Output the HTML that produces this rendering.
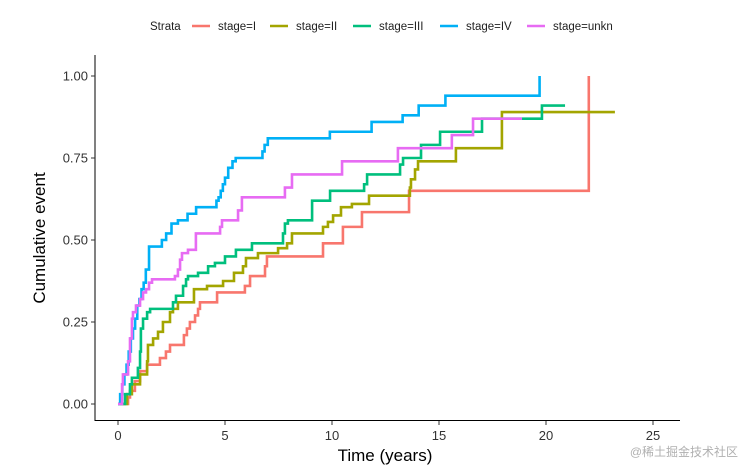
<!DOCTYPE html>
<html><head><meta charset="utf-8"><style>
html,body{margin:0;padding:0;background:#fff;}
svg{display:block;font-family:"Liberation Sans",Arial,sans-serif;}
</style></head><body>
<svg id="chart" width="742" height="465" viewBox="0 0 742 465">
<g id="legend">
<text x="150" y="30" font-size="11.5" fill="#222">Strata</text>
</g>
<g id="axes">
<line x1="95" y1="55" x2="95" y2="421" stroke="#000" stroke-width="1"/>
<line x1="95" y1="420.5" x2="680" y2="420.5" stroke="#000" stroke-width="1"/>
</g>
<g id="series"></g>
<text x="385" y="461" font-size="17" text-anchor="middle" fill="#000">Time (years)</text>
<text transform="translate(45,238) rotate(-90)" font-size="17" text-anchor="middle" fill="#000">Cumulative event</text>
<text x="738" y="456" font-size="12" text-anchor="end" fill="#b0b0b0" font-family="'Liberation Sans','Noto Sans CJK SC',sans-serif">@稀土掘金技术社区</text>
</svg>
<script>
const xTicks = [0, 5, 10, 15, 20, 25];
const yTicks = [0, 0.25, 0.5, 0.75, 1.0];
const yTickLabels = ["0.00", "0.25", "0.50", "0.75", "1.00"];
const strata = ["stage=I", "stage=II", "stage=III", "stage=IV", "stage=unkn"];
const colors = ["#F8766D", "#A3A500", "#00BF7D", "#00B0F6", "#E76BF3"];

const timesI = [0.47,0.56,0.79,1.03,1.36,1.96,2.24,2.43,3.08,3.22,3.36,3.6,3.74,3.83,4.63,5.93,6.17,6.87,6.96,9.58,10.51,11.4,13.6,22.0];
const valuesI = [0.02,0.04,0.07,0.10,0.12,0.14,0.16,0.18,0.21,0.23,0.25,0.27,0.29,0.31,0.34,0.36,0.39,0.42,0.45,0.49,0.54,0.585,0.65,1.0];
const endI = 22.0;

const timesII = [0.42,0.65,1.03,1.36,1.4,1.64,1.87,2.1,2.43,2.57,2.8,3.55,4.16,4.91,5.42,5.84,5.98,6.54,7.48,7.9,8.13,9.58,9.81,10.05,10.42,10.93,11.73,13.64,13.69,13.88,14.02,15.79,17.94];
const valuesII = [0.03,0.06,0.09,0.13,0.18,0.20,0.22,0.25,0.28,0.29,0.31,0.35,0.36,0.375,0.40,0.42,0.445,0.46,0.475,0.49,0.52,0.54,0.555,0.575,0.60,0.61,0.635,0.66,0.685,0.715,0.74,0.78,0.89];
const endII = 23.22;

const timesIII = [0.33,0.56,0.65,0.93,1.03,1.07,1.17,1.36,1.5,2.57,2.71,3.04,3.18,3.27,3.74,4.21,4.53,5.0,5.51,6.26,7.71,7.8,7.94,9.07,9.91,11.5,11.64,13.18,13.32,14.16,15.05,17.01,19.81];
const valuesIII = [0.03,0.06,0.08,0.11,0.16,0.23,0.26,0.28,0.29,0.31,0.33,0.36,0.38,0.39,0.40,0.42,0.43,0.45,0.47,0.49,0.52,0.55,0.56,0.62,0.65,0.67,0.70,0.73,0.75,0.79,0.83,0.87,0.91];
const endIII = 20.89;

const timesIV = [0.1,0.2,0.3,0.4,0.5,0.6,0.7,0.8,0.9,1.0,1.1,1.2,1.3,1.45,2.05,2.25,2.5,2.8,3.25,3.65,4.6,4.7,4.8,4.9,5.0,5.15,5.35,5.5,6.75,6.85,7.0,9.9,11.85,13.3,14.05,15.3,19.7];
const valuesIV = [0.03,0.06,0.09,0.12,0.16,0.2,0.23,0.26,0.3,0.32,0.35,0.37,0.41,0.48,0.50,0.52,0.55,0.56,0.58,0.60,0.62,0.63,0.65,0.67,0.69,0.72,0.74,0.75,0.77,0.79,0.81,0.83,0.86,0.88,0.91,0.94,1.0];
const endIV = 19.7;

const timesUnkn = [0.19,0.23,0.47,0.56,0.65,0.70,0.84,1.03,1.17,1.31,1.45,1.59,2.66,2.80,2.90,2.99,3.27,3.64,4.77,4.86,5.61,5.79,7.8,8.13,10.47,13.08,15.6,16.59];
const valuesUnkn = [0.06,0.09,0.13,0.20,0.26,0.28,0.30,0.32,0.34,0.35,0.37,0.38,0.39,0.41,0.44,0.46,0.47,0.52,0.54,0.56,0.59,0.63,0.66,0.70,0.74,0.78,0.82,0.87];
const endUnkn = 18.88;

const NS = "http://www.w3.org/2000/svg";
function xScale(t){ return 118 + t * 21.4; }
function yScale(v){ return 404 - v * 328; }

const axes = document.getElementById('axes');
xTicks.forEach(function(t){
  const x = xScale(t);
  const l = document.createElementNS(NS, 'line');
  l.setAttribute('x1', x); l.setAttribute('x2', x);
  l.setAttribute('y1', 421); l.setAttribute('y2', 425);
  l.setAttribute('stroke', '#333');
  
  
  axes.appendChild(l);
  const tx = document.createElementNS(NS, 'text');
  tx.setAttribute('x', x); tx.setAttribute('y', 440);
  tx.setAttribute('text-anchor', 'middle');
  tx.setAttribute('font-size', '13'); tx.setAttribute('fill', '#333');
  tx.textContent = String(t);
  
  
  axes.appendChild(tx);
});
yTicks.forEach(function(v, i){
  const y = yScale(v);
  const l = document.createElementNS(NS, 'line');
  l.setAttribute('x1', 91); l.setAttribute('x2', 95);
  l.setAttribute('y1', y); l.setAttribute('y2', y);
  l.setAttribute('stroke', '#333');
  
  
  axes.appendChild(l);
  const tx = document.createElementNS(NS, 'text');
  tx.setAttribute('x', 88); tx.setAttribute('y', y + 4.5);
  tx.setAttribute('text-anchor', 'end');
  tx.setAttribute('font-size', '13'); tx.setAttribute('fill', '#333');
  tx.textContent = yTickLabels[i];
  
  
  axes.appendChild(tx);
});

const allTimes = [timesI, timesII, timesIII, timesIV, timesUnkn];
const allValues = [valuesI, valuesII, valuesIII, valuesIV, valuesUnkn];
const allEnds = [endI, endII, endIII, endIV, endUnkn];
const seriesG = document.getElementById('series');
allTimes.forEach(function(times, s){
  const vals = allValues[s];
  let d = 'M' + xScale(0) + ',' + yScale(0);
  let prev = 0;
  for (let i = 0; i < times.length; i++) {
    d += ' H' + xScale(times[i]) + ' V' + yScale(vals[i]);
    prev = vals[i];
  }
  d += ' H' + xScale(allEnds[s]);
  const p = document.createElementNS(NS, 'path');
  p.setAttribute('d', d);
  p.setAttribute('fill', 'none');
  p.setAttribute('stroke', colors[s]);
  p.setAttribute('stroke-width', '2.6');
  
  
  seriesG.appendChild(p);
});

const legend = document.getElementById('legend');
const legendX = [192, 270, 353, 440, 527];
strata.forEach(function(name, i){
  const g = document.createElementNS(NS, 'g');
  
  
  const l = document.createElementNS(NS, 'line');
  l.setAttribute('x1', legendX[i]); l.setAttribute('x2', legendX[i] + 18);
  l.setAttribute('y1', 26); l.setAttribute('y2', 26);
  l.setAttribute('stroke', colors[i]); l.setAttribute('stroke-width', '2.6');
  
  
  g.appendChild(l);
  const t = document.createElementNS(NS, 'text');
  t.setAttribute('x', legendX[i] + 26); t.setAttribute('y', 30);
  t.setAttribute('font-size', '11.5'); t.setAttribute('fill', '#222');
  t.textContent = name;
  
  
  g.appendChild(t);
  legend.appendChild(g);
});
</script>
</body></html>
